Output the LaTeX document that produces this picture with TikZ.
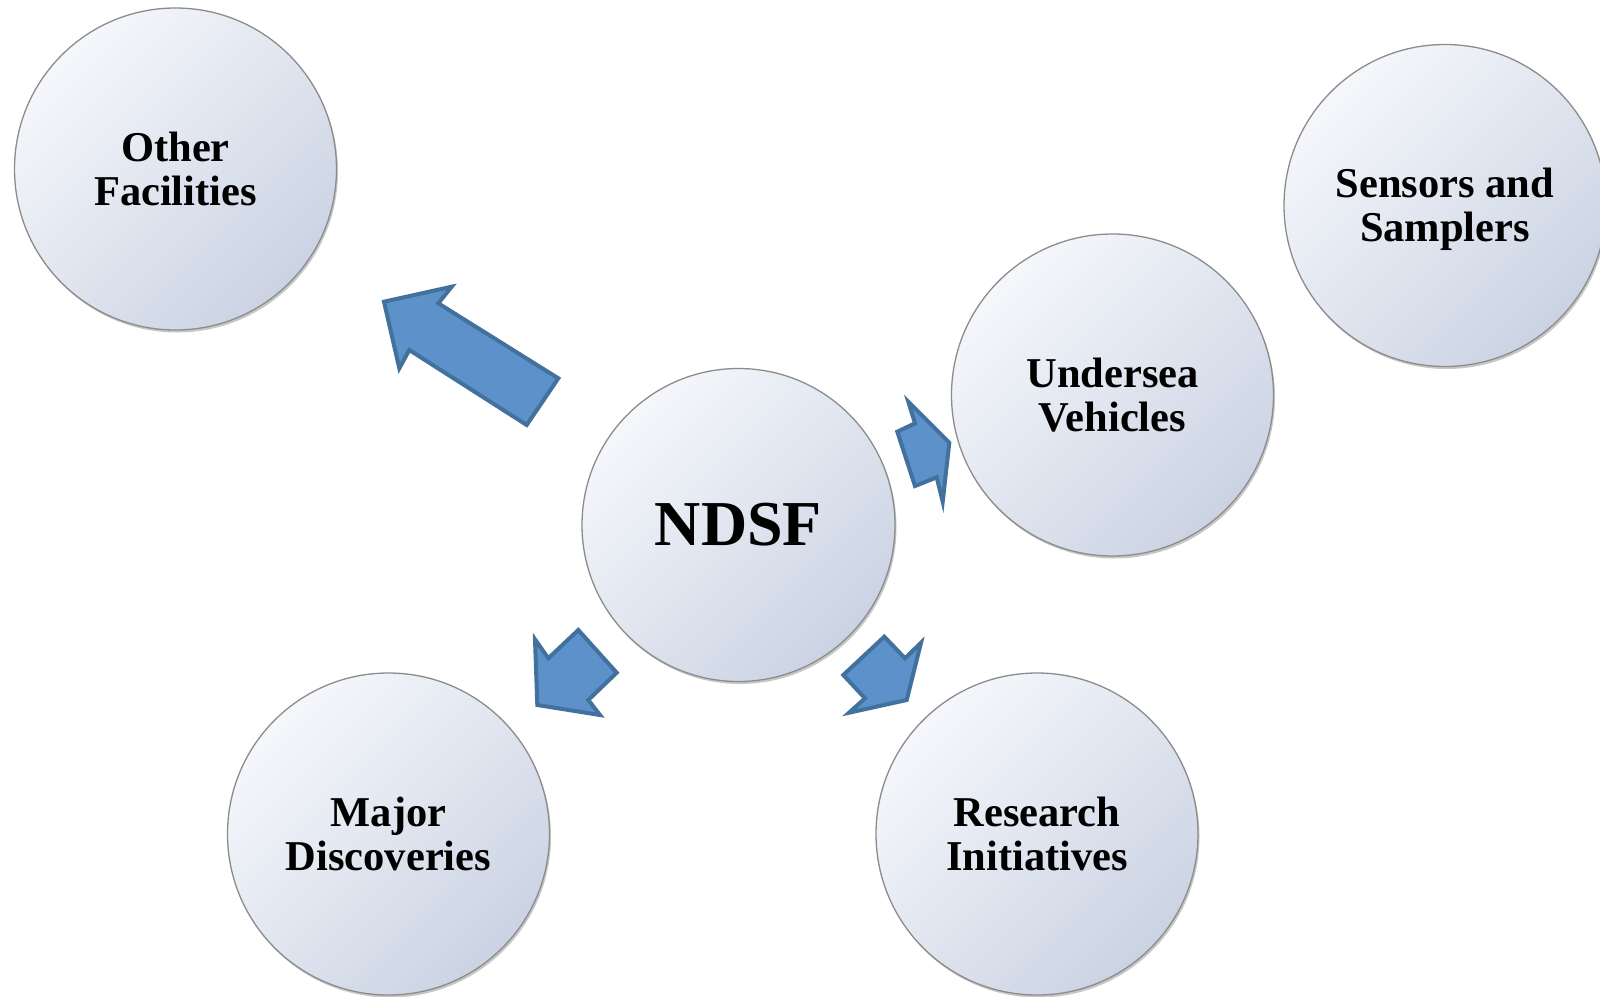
\documentclass[tikz,border=0pt]{standalone}
\usepackage{fontspec}
\setmainfont{Liberation Serif}
\usetikzlibrary{shadows}
\definecolor{arrowfill}{HTML}{5C92C9}
\definecolor{arrowline}{HTML}{41719C}
\definecolor{clight}{HTML}{F5F7FB}
\definecolor{cdark}{HTML}{CBD3E3}
\definecolor{cline}{HTML}{8C8C8C}
\begin{document}
\begin{tikzpicture}[x=1pt,y=-1pt,
  bubble/.style={circle, draw=cline, line width=1.3pt, top color=clight, bottom color=cdark, shading angle=45,
    minimum size=322pt, inner sep=0pt, align=center, font=\bfseries\fontsize{42.5}{44}\selectfont,
    drop shadow={opacity=0.22, shadow xshift=1.5pt, shadow yshift=-2.5pt, fill=black}},
  blockarrow/.style={fill=arrowfill, draw=arrowline, line width=4pt, line join=miter}]
\clip (0,0) rectangle (1600,996);
\useasboundingbox (0,0) rectangle (1600,996);
\fill[white] (0,0) rectangle (1600,996);

\node[bubble] (other) at (175.5,169) {Other\\Facilities};
\node[bubble] (sensors) at (1445,205.5) {};
\node[align=center, font=\bfseries\fontsize{42.5}{44}\selectfont] (sensorstext) at ([yshift=-4pt]sensors.center) {Sensors and\\Samplers};
\node[bubble] (undersea) at (1112.5,395) {Undersea\\Vehicles};
\node[bubble, minimum size=313pt, font=\bfseries\fontsize{64}{64}\selectfont] (ndsf) at (738.5,525) {NDSF};
\node[bubble] (major) at (388.5,834) {Major\\Discoveries};
\node[bubble] (research) at (1037,834) {Research\\Initiatives};

\draw[blockarrow] (384,301.7) -- (451.7,286.7) -- (438.3,303.3) -- (558.3,378.3) -- (526.7,425) -- (409.3,350) -- (399.3,368.3) -- cycle;
\draw[blockarrow] (908.3,401.7) -- (915,423.3) -- (897.3,431.7) -- (915,486) -- (936.7,477.3) -- (942.7,501.7) -- (949.3,442.7) -- cycle;
\draw[blockarrow] (535,639.3) -- (548.3,658.3) -- (578.3,630) -- (616.7,672.7) -- (588.3,700) -- (600,715) -- (537.3,705) -- cycle;
\draw[blockarrow] (884.3,636.7) -- (905,658.3) -- (921,642.7) -- (906.7,700) -- (849,712.7) -- (865,698.3) -- (843.3,675) -- cycle;
\end{tikzpicture}
\end{document}
